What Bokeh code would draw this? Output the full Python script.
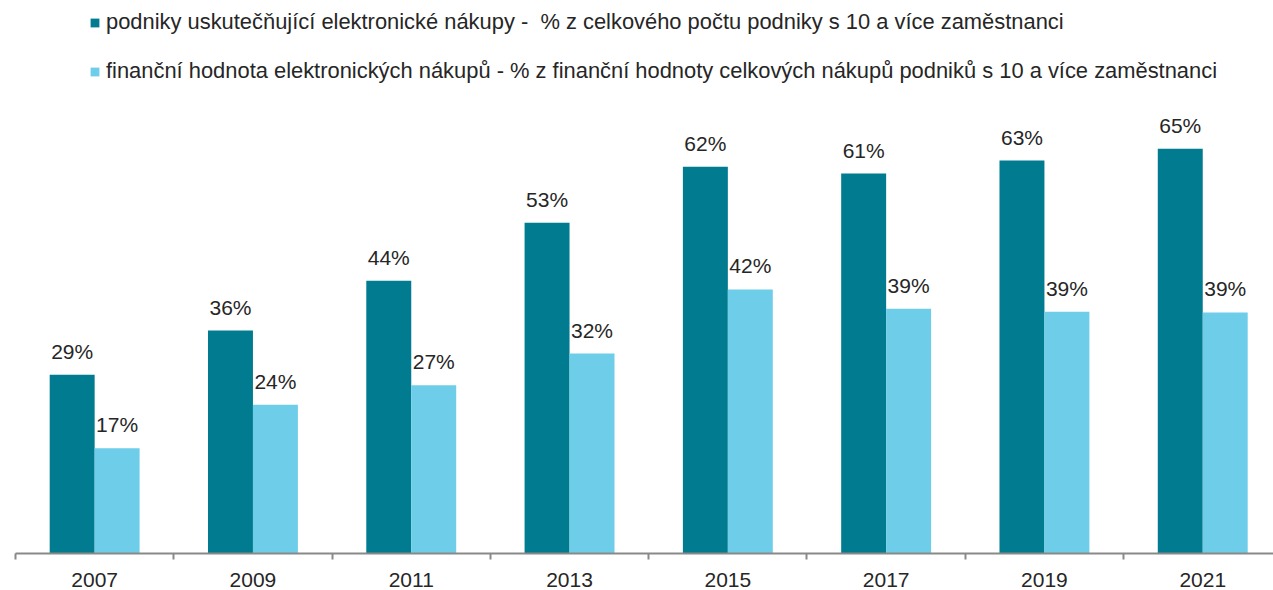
from bokeh.plotting import figure
from bokeh.models import ColumnDataSource, Range1d, FixedTicker, Legend, LegendItem
from bokeh.core.properties import value
from bokeh.embed import file_html
from bokeh.resources import INLINE

years = ["2007", "2009", "2011", "2013", "2015", "2017", "2019", "2021"]
podniky = [28.7, 35.8, 43.8, 53.1, 62.1, 61.0, 63.1, 65.0]
hodnota = [16.9, 23.9, 27.0, 32.1, 42.4, 39.3, 38.8, 38.7]
podniky_labels = ["29%", "36%", "44%", "53%", "62%", "61%", "63%", "65%"]
hodnota_labels = ["17%", "24%", "27%", "32%", "42%", "39%", "39%", "39%"]
series_names = [
    "podniky uskutečňující elektronické nákupy -  % z celkového počtu podniky s 10 a více zaměstnanci",
    "finanční hodnota elektronických nákupů - % z finanční hodnoty celkových nákupů podniků s 10 a více zaměstnanci",
]

DARK = "#007B8F"
LIGHT = "#6ECEE9"
FONT = "Liberation Sans"
BAR_W = 0.284

idx = list(range(len(years)))
centers = [i + 0.5 for i in idx]

src1 = ColumnDataSource(dict(x=[c - BAR_W / 2 for c in centers], top=podniky, lab=podniky_labels))
src2 = ColumnDataSource(dict(x=[c + BAR_W / 2 for c in centers], top=hodnota, lab=hodnota_labels))

p = figure(width=1273, height=590, output_backend="svg", toolbar_location=None,
           x_range=Range1d(0, 7.947), y_range=Range1d(0, 88.8),
           min_border_left=15, min_border_right=0, min_border_top=0, min_border_bottom=37)
p.outline_line_color = None
p.grid.visible = False
p.yaxis.visible = False
p.background_fill_color = "white"

r1 = p.vbar(x="x", top="top", width=BAR_W, source=src1, fill_color=DARK, line_color=None)
r2 = p.vbar(x="x", top="top", width=BAR_W, source=src2, fill_color=LIGHT, line_color=None)

for s in (src1, src2):
    p.text(x="x", y="top", text="lab", source=s, text_align="center", text_baseline="bottom",
           y_offset=-12, text_font=value(FONT), text_font_size="21px", text_color="#262626")

ax = p.xaxis[0]
ax.ticker = FixedTicker(ticks=centers, minor_ticks=[float(i) for i in range(len(years) + 1)])
ax.major_label_overrides = {c: y for c, y in zip(centers, years)}
ax.major_tick_out = 0
ax.major_tick_in = 0
ax.minor_tick_out = 6
ax.minor_tick_in = 0
ax.minor_tick_line_color = "#898989"
ax.minor_tick_line_width = 2
ax.axis_line_color = "#898989"
ax.axis_line_width = 2
ax.major_label_standoff = 13
ax.major_label_text_font = FONT
ax.major_label_text_font_size = "21px"
ax.major_label_text_color = "#262626"

legend = Legend(items=[LegendItem(label=series_names[0], renderers=[r1]),
                       LegendItem(label=series_names[1], renderers=[r2])],
                location=(74, 469), orientation="vertical",
                glyph_width=11, glyph_height=11, label_standoff=6, label_height=20,
                spacing=23, padding=0, margin=0, border_line_color=None,
                background_fill_alpha=0, label_text_font=FONT, label_text_font_size="21.9px",
                label_text_color="#262626")
p.add_layout(legend, "center")

open("out.html", "w").write(file_html(p, INLINE))
